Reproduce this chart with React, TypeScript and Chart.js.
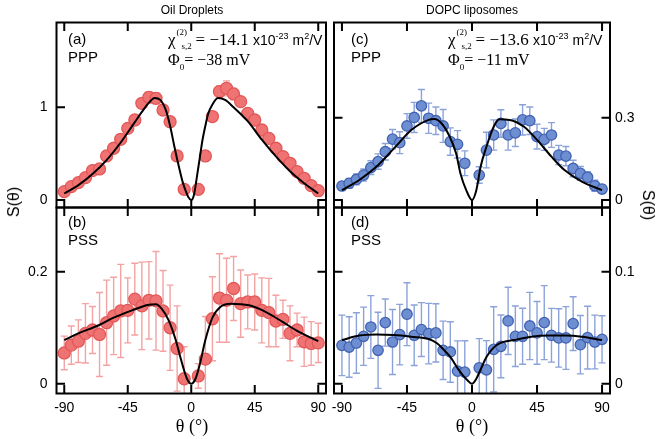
import React, { useEffect, useRef } from "react";
import { Chart, registerables } from "chart.js";
Chart.register(...registerables);

// ---------- data ----------
const THETA = [-90, -85, -80, -75, -70, -65, -60, -55, -50, -45, -40, -35, -30, -25, -20, -15, -10, -5,
  5, 10, 15, 20, 25, 30, 35, 40, 45, 50, 55, 60, 65, 70, 75, 80, 85, 90];

// (a) Oil droplets, PPP
const S_A = [0.09, 0.144, 0.187, 0.241, 0.317, 0.335, 0.475, 0.558, 0.655, 0.773, 0.863, 1.043, 1.108, 1.097, 0.971, 0.845, 0.475, 0.115,
  0.115, 0.475, 0.90, 1.17, 1.205, 1.144, 1.061, 0.935, 0.863, 0.755, 0.665, 0.558, 0.468, 0.396, 0.306, 0.234, 0.155, 0.10];
const ERR_A = [0.02, 0.02, 0.025, 0.025, 0.03, 0.03, 0.035, 0.035, 0.04, 0.04, 0.045, 0.05, 0.06, 0.06, 0.05, 0.05, 0.04, 0.03,
  0.03, 0.04, 0.05, 0.06, 0.08, 0.06, 0.05, 0.05, 0.045, 0.04, 0.04, 0.035, 0.035, 0.03, 0.03, 0.025, 0.02, 0.02];
const FIT_A_T = [-90, -80, -70, -60, -50, -40, -35, -30, -26, -22, -18, -15, -12, -10, -8, -6, -4, -2, 0, 2, 4, 6, 8, 10, 12, 15, 19, 24, 30, 40, 50, 60, 70, 80, 90];
const FIT_A = [0.07, 0.16, 0.28, 0.43, 0.62, 0.84, 0.95, 1.05, 1.10, 1.08, 0.97, 0.80, 0.58, 0.44, 0.31, 0.19, 0.10, 0.03, 0, 0.06, 0.25, 0.45, 0.65, 0.80, 0.93, 1.03, 1.10, 1.08, 1.00, 0.85, 0.65, 0.47, 0.31, 0.18, 0.07];

// (b) Oil droplets, PSS
const S_B = [0.055, 0.069, 0.076, 0.090, 0.096, 0.088, 0.109, 0.121, 0.130, 0.131, 0.151, 0.139, 0.149, 0.148, 0.130, 0.100, 0.063, 0.009,
  0.014, 0.044, 0.116, 0.153, 0.149, 0.170, 0.143, 0.146, 0.146, 0.131, 0.127, 0.112, 0.115, 0.090, 0.096, 0.075, 0.072, 0.073];
const ERR_B = [0.030, 0.034, 0.038, 0.053, 0.042, 0.075, 0.076, 0.069, 0.083, 0.058, 0.064, 0.078, 0.069, 0.088, 0.072, 0.076, 0.076, 0.057,
  0.022, 0.076, 0.075, 0.079, 0.075, 0.057, 0.060, 0.048, 0.050, 0.058, 0.061, 0.046, 0.034, 0.049, 0.030, 0.044, 0.039, 0.035];
const FIT_B_T = [-90, -80, -66, -55, -42, -30, -25, -21, -16, -11, -8, -6, -3, 0, 3, 6, 10, 15, 21, 28, 41, 53, 65, 76, 90];
const FIT_B = [0.078, 0.090, 0.104, 0.118, 0.131, 0.141, 0.142, 0.134, 0.113, 0.078, 0.050, 0.032, 0.009, 0, 0.009, 0.034, 0.078, 0.118, 0.138, 0.143, 0.140, 0.128, 0.110, 0.093, 0.076];

// (c) DOPC liposomes, PPP
const S_C = [0.051, 0.061, 0.075, 0.091, 0.118, 0.140, 0.176, 0.222, 0.209, 0.270, 0.301, 0.343, 0.298, 0.289, 0.270, 0.213, 0.203, 0.134,
  0.091, 0.182, 0.237, 0.279, 0.237, 0.245, 0.292, 0.289, 0.231, 0.221, 0.237, 0.164, 0.160, 0.115, 0.097, 0.083, 0.052, 0.040];
const ERR_C = [0.015, 0.018, 0.02, 0.022, 0.025, 0.028, 0.03, 0.035, 0.04, 0.045, 0.055, 0.06, 0.055, 0.05, 0.06, 0.05, 0.05, 0.045,
  0.03, 0.065, 0.055, 0.05, 0.055, 0.05, 0.055, 0.05, 0.045, 0.04, 0.045, 0.035, 0.035, 0.03, 0.025, 0.02, 0.02, 0.015];
const FIT_C_T = [-90, -78, -66, -54, -42, -30, -26, -21, -16, -11, -8, -4, 0, 3, 6, 10, 15, 19, 26, 36, 45, 55, 64, 76, 90];
const FIT_C = [0.036, 0.073, 0.122, 0.188, 0.255, 0.292, 0.295, 0.279, 0.237, 0.170, 0.097, 0.036, 0, 0.036, 0.122, 0.194, 0.267, 0.294, 0.292, 0.267, 0.219, 0.158, 0.109, 0.067, 0.036];

// (d) DOPC liposomes, PSS
const S_D = [0.0343, 0.0328, 0.0364, 0.0424, 0.0507, 0.0299, 0.0546, 0.0373, 0.0439, 0.0621, 0.0433, 0.0484, 0.0448, 0.0454, 0.0299, 0.0284, 0.0113, 0.0104,
  0.0143, 0.0125, 0.0307, 0.0334, 0.0561, 0.0424, 0.0424, 0.0516, 0.0454, 0.0546, 0.0433, 0.0409, 0.0409, 0.0537, 0.0349, 0.0412, 0.0373, 0.0397];
const ERR_D = [0.027, 0.027, 0.027, 0.026, 0.028, 0.034, 0.021, 0.029, 0.027, 0.028, 0.027, 0.024, 0.027, 0.026, 0.026, 0.027, 0.027, 0.028,
  0.026, 0.026, 0.038, 0.028, 0.030, 0.027, 0.025, 0.030, 0.028, 0.033, 0.024, 0.026, 0.028, 0.024, 0.026, 0.028, 0.024, 0.021];
const FIT_D_T = [-90, -78, -66, -54, -42, -30, -24, -20, -15, -10, -6, -3, 0, 3, 6, 10, 14, 19, 29, 41, 53, 65, 76, 90];
const FIT_D = [0.039, 0.043, 0.044, 0.0435, 0.042, 0.040, 0.036, 0.031, 0.024, 0.014, 0.007, 0.003, 0, 0.0045, 0.013, 0.024, 0.031, 0.036, 0.039, 0.042, 0.043, 0.043, 0.042, 0.039];

const X_TICKS = [-90, -45, 0, 45, 90];
const Y_TICKS_A = [0, 1];
const Y_TICKS_B = [0, 0.2];
const Y_TICKS_C = [0, 0.3];
const Y_TICKS_D = [0, 0.1];

// ---------- styles ----------
const RED = { fill: "#f07373", edge: "#e25858", err: "#f4a2a2" };
const BLUE = { fill: "#6e8ed2", edge: "#4262b2", err: "#8ba3d9" };
const TICK_FONT = '"Liberation Sans", Arial, sans-serif';

type Panel = {
  theta: number[]; s: number[]; err: number[]; fitT: number[]; fit: number[];
  yTicks: number[]; yMin: number; yMax: number;
  area: { l: number; r: number; t: number; b: number };
  ySide: "left" | "right"; showX: boolean; col: { fill: string; edge: string; err: string }; radius: number;
};

const W = 660, H = 439;
const Y_LEFT_W = 56.5, Y_RIGHT_W = 40, X_H = 30;

const PANELS: Panel[] = [
  { theta: THETA, s: S_A, err: ERR_A, fitT: FIT_A_T, fit: FIT_A, yTicks: Y_TICKS_A, yMin: -0.081, yMax: 1.915,
    area: { l: 56.5, r: 326, t: 22.5, b: 207.5 }, ySide: "left", showX: false, col: RED, radius: 6 },
  { theta: THETA, s: S_B, err: ERR_B, fitT: FIT_B_T, fit: FIT_B, yTicks: Y_TICKS_B, yMin: -0.0173, yMax: 0.3145,
    area: { l: 56.5, r: 326, t: 207.5, b: 393.5 }, ySide: "left", showX: true, col: RED, radius: 6 },
  { theta: THETA, s: S_C, err: ERR_C, fitT: FIT_C_T, fit: FIT_C, yTicks: Y_TICKS_C, yMin: -0.0273, yMax: 0.647,
    area: { l: 334, r: 610, t: 22.5, b: 207.5 }, ySide: "right", showX: false, col: BLUE, radius: 5.2 },
  { theta: THETA, s: S_D, err: ERR_D, fitT: FIT_D_T, fit: FIT_D, yTicks: Y_TICKS_D, yMin: -0.00865, yMax: 0.1573,
    area: { l: 334, r: 610, t: 207.5, b: 393.5 }, ySide: "right", showX: true, col: BLUE, radius: 5.2 },
];

const framePlugin = {
  id: "frameErr",
  beforeDatasetsDraw(chart: any, _a: any, opts: any) {
    const { ctx, chartArea, scales } = chart;
    const x = scales.x, y = scales.y;
    ctx.save();
    ctx.beginPath();
    ctx.rect(chartArea.left, chartArea.top, chartArea.right - chartArea.left, chartArea.bottom - chartArea.top);
    ctx.clip();
    ctx.strokeStyle = opts.errColor;
    ctx.lineWidth = 1.4;
    const cap = 3.5;
    opts.theta.forEach((t: number, i: number) => {
      const px = x.getPixelForValue(t);
      const yt = y.getPixelForValue(opts.s[i] + opts.err[i]);
      const yb = y.getPixelForValue(opts.s[i] - opts.err[i]);
      ctx.beginPath();
      ctx.moveTo(px, yt); ctx.lineTo(px, yb);
      ctx.moveTo(px - cap, yt); ctx.lineTo(px + cap, yt);
      ctx.moveTo(px - cap, yb); ctx.lineTo(px + cap, yb);
      ctx.stroke();
    });
    ctx.restore();
  },
  afterDraw(chart: any, _a: any, opts: any) {
    const { ctx, chartArea: ca, scales } = chart;
    const x = scales.x, y = scales.y;
    const tl = 8.5;
    ctx.save();
    ctx.strokeStyle = "#000";
    ctx.lineWidth = 2;
    ctx.strokeRect(ca.left, ca.top, ca.right - ca.left, ca.bottom - ca.top);
    ctx.beginPath();
    opts.xTicks.forEach((v: number) => {
      const px = x.getPixelForValue(v);
      ctx.moveTo(px, ca.bottom); ctx.lineTo(px, ca.bottom - tl);
      ctx.moveTo(px, ca.top); ctx.lineTo(px, ca.top + tl);
    });
    opts.yTicks.forEach((v: number) => {
      const py = y.getPixelForValue(v);
      ctx.moveTo(ca.left, py); ctx.lineTo(ca.left + tl, py);
      ctx.moveTo(ca.right, py); ctx.lineTo(ca.right - tl, py);
    });
    ctx.stroke();
    ctx.restore();
  },
};

function makeConfig(p: Panel): any {
  const yW = p.ySide === "left" ? Y_LEFT_W : Y_RIGHT_W;
  const xH = p.showX ? X_H : 0;
  const padding = {
    left: p.ySide === "left" ? p.area.l - yW : p.area.l,
    right: p.ySide === "right" ? W - p.area.r - yW : W - p.area.r,
    top: p.area.t,
    bottom: H - p.area.b - xH,
  };
  return {
    type: "scatter",
    data: {
      datasets: [
        {
          type: "line",
          data: p.fitT.map((t, i) => ({ x: t, y: p.fit[i] })),
          borderColor: "#000",
          borderWidth: 2,
          pointRadius: 0,
          fill: false,
          cubicInterpolationMode: "monotone",
          order: 0,
        },
        {
          type: "scatter",
          data: p.theta.map((t, i) => ({ x: t, y: p.s[i] })),
          pointRadius: p.radius,
          backgroundColor: p.col.fill,
          borderColor: p.col.edge,
          borderWidth: 1.3,
          order: 1,
        },
      ],
    },
    options: {
      responsive: false,
      animation: false,
      events: [],
      layout: { padding },
      plugins: {
        legend: { display: false },
        tooltip: { enabled: false },
        frameErr: { theta: p.theta, s: p.s, err: p.err, errColor: p.col.err, xTicks: X_TICKS, yTicks: p.yTicks },
      },
      scales: {
        x: {
          type: "linear",
          position: "bottom",
          display: p.showX,
          min: -95.5,
          max: 95.5,
          grid: { display: false, drawTicks: false },
          border: { display: false },
          ticks: {
            color: "#000",
            font: { family: TICK_FONT, size: 14 },
            padding: 6,
            autoSkip: false,
            maxRotation: 0,
            callback: (v: number) => String(v),
          },
          afterBuildTicks: (s: any) => { s.ticks = X_TICKS.map((v) => ({ value: v })); },
          afterFit: (s: any) => { s.height = xH; },
        },
        y: {
          type: "linear",
          position: p.ySide,
          min: p.yMin,
          max: p.yMax,
          grid: { display: false, drawTicks: false },
          border: { display: false },
          ticks: {
            color: "#000",
            font: { family: TICK_FONT, size: 14 },
            padding: p.ySide === "left" ? 9 : 5,
            callback: (v: number) => String(v),
          },
          afterBuildTicks: (s: any) => { s.ticks = p.yTicks.map((v) => ({ value: v })); },
          afterFit: (s: any) => { s.width = yW; },
        },
      },
    },
    plugins: [framePlugin],
  };
}

const abs = (extra: React.CSSProperties): React.CSSProperties => ({ position: "absolute", whiteSpace: "nowrap", lineHeight: 1, ...extra });
const SANS = '"Liberation Sans", Arial, sans-serif';
const SERIF = '"Liberation Serif", "Times New Roman", serif';

function Annot({ left, top, letter, mode }: { left: number; top: number; letter: string; mode: string }) {
  return (
    <>
      <div style={abs({ left, top, fontFamily: SANS, fontSize: 15 })}>{letter}</div>
      <div style={abs({ left, top: top + 18, fontFamily: SANS, fontSize: 15 })}>{mode}</div>
    </>
  );
}

function ChiPhi({ left, top, chi, phi }: { left: number; top: number; chi: string; phi: string }) {
  return (
    <>
      <div style={abs({ left, top, fontFamily: SERIF, fontSize: 17 })}>
        <span>χ</span>
        <span style={{ position: "relative", display: "inline-block", width: 20, height: 10 }}>
          <span style={{ position: "absolute", left: 1, top: -7, fontSize: 9 }}>(2)</span>
          <span style={{ position: "absolute", left: 6, top: 7, fontSize: 9 }}>s,2</span>
        </span>
        <span>= {chi} </span>
        <span style={{ fontFamily: SANS, fontSize: 14 }}>x10</span>
        <span style={{ fontFamily: SANS, fontSize: 9, position: "relative", top: -6 }}>-23</span>
        <span style={{ fontFamily: SANS, fontSize: 14 }}> m</span>
        <span style={{ fontFamily: SANS, fontSize: 9, position: "relative", top: -6 }}>2</span>
        <span style={{ fontFamily: SANS, fontSize: 14 }}>/V</span>
      </div>
      <div style={abs({ left, top: top + 21, fontFamily: SERIF, fontSize: 16 })}>
        <span>Φ</span>
        <span style={{ fontSize: 9, position: "relative", top: 5 }}>0</span>
        <span>= {phi}</span>
      </div>
    </>
  );
}

export default function App() {
  const canvasRefs = useRef<(HTMLCanvasElement | null)[]>([]);
  useEffect(() => {
    const charts = PANELS.map((p, i) => new Chart(canvasRefs.current[i] as HTMLCanvasElement, makeConfig(p)));
    return () => charts.forEach((c) => c.destroy());
  }, []);

  return (
    <div style={{ position: "fixed", left: 0, top: 0, width: W, height: H, background: "#fff", overflow: "hidden", color: "#000" }}>
      {PANELS.map((_, i) => (
        <canvas
          key={i}
          ref={(el) => { canvasRefs.current[i] = el; }}
          width={W}
          height={H}
          style={{ position: "absolute", left: 0, top: 0, width: W, height: H }}
        />
      ))}
      <div style={abs({ left: 192, top: 4, transform: "translateX(-50%)", fontFamily: SANS, fontSize: 12 })}>Oil Droplets</div>
      <div style={abs({ left: 472, top: 4, transform: "translateX(-50%)", fontFamily: SANS, fontSize: 12 })}>DOPC liposomes</div>

      <Annot left={68} top={31} letter="(a)" mode="PPP" />
      <Annot left={351} top={31} letter="(c)" mode="PPP" />
      <Annot left={68} top={214} letter="(b)" mode="PSS" />
      <Annot left={351} top={214} letter="(d)" mode="PSS" />

      <ChiPhi left={168} top={31} chi="−14.1" phi="−38 mV" />
      <ChiPhi left={448} top={31} chi="−13.6" phi="−11 mV" />

      <div style={abs({ left: 14, top: 202, transform: "translate(-50%, -50%) rotate(-90deg)", fontFamily: SANS, fontSize: 16 })}>S(θ)</div>
      <div style={abs({ left: 648, top: 205, transform: "translate(-50%, -50%) rotate(90deg)", fontFamily: SANS, fontSize: 16 })}>S(θ)</div>

      <div style={abs({ left: 192, top: 417, transform: "translateX(-50%)", fontFamily: SERIF, fontSize: 18 })}>θ (°)</div>
      <div style={abs({ left: 472, top: 417, transform: "translateX(-50%)", fontFamily: SERIF, fontSize: 18 })}>θ (°)</div>
    </div>
  );
}
